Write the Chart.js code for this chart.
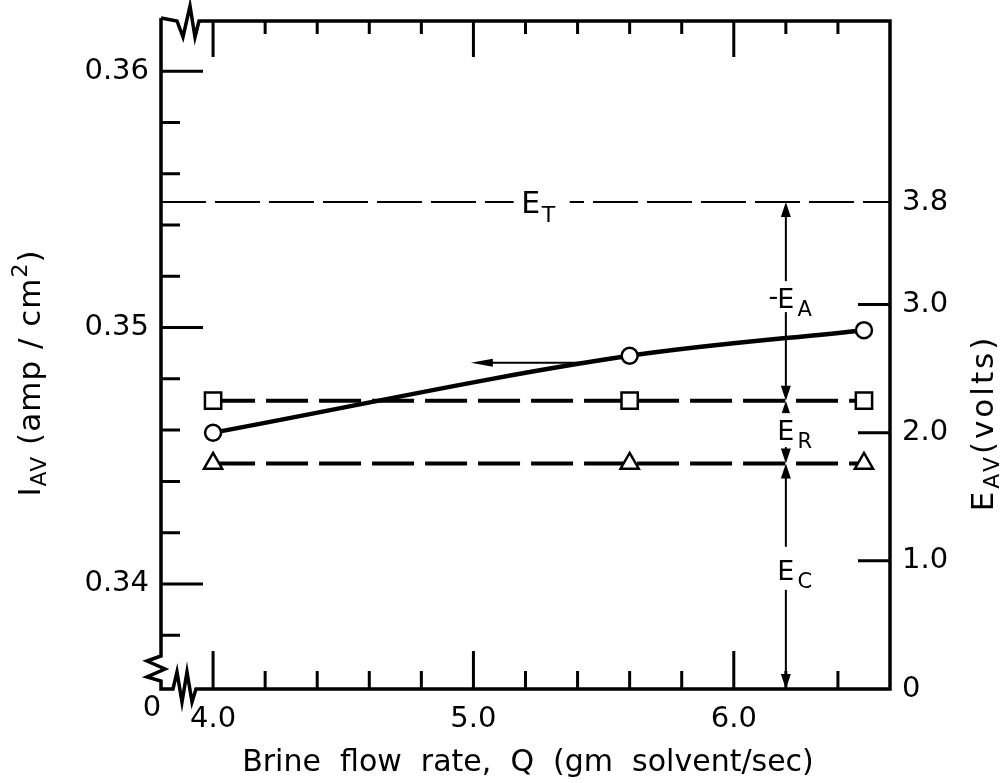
<!DOCTYPE html>
<html>
<head>
<meta charset="utf-8">
<script src="https://cdn.jsdelivr.net/npm/chart.js@4.4.1/dist/chart.umd.min.js"></script>
<style>
  html, body { margin: 0; padding: 0; background: #fff; }
  canvas { display: block; }
</style>
</head>
<body>
<canvas id="chart" width="1003" height="783"></canvas>
<script>
// data
const flowRate = [4.0, 5.6, 6.5];                 // Q, gm solvent/sec
const currentDensity = [0.3459, 0.3489, 0.3499];  // I_AV, amp/cm2 (circles, left axis)
const upperVolts = [2.25, 2.25, 2.25];            // squares, right axis
const cathodeVolts = [1.76, 1.76, 1.76];          // triangles, right axis
const totalVolts = 3.8;                           // E_T
const totalRange = [3.8, 6.6];

// axes
const xMajor = [4.0, 5.0, 6.0];
const xMinor = [4.2, 4.4, 4.6, 4.8, 5.2, 5.4, 5.6, 5.8, 6.2, 6.4];
const yMajor = [0.34, 0.35, 0.36];
const yMinor = [0.338, 0.342, 0.344, 0.346, 0.348, 0.352, 0.354, 0.356, 0.358];
const y2Labels = [0, 1.0, 2.0, 3.0, 3.8];
const y2Marks = [1.0, 2.0, 3.0];

// annotations (data units)
const splitX = 6.2;
const splitBounds = [totalVolts, upperVolts[0], cathodeVolts[0], 0];
const leftArrow = { from: 5.45, to: 4.99, y: 0.34863 };

const FONT = 'DejaVu Sans';
const INK = '#000';

function drawRich(ctx, parts, x, y, rot, spacing) {
  ctx.save();
  ctx.translate(x, y);
  ctx.rotate(rot);
  ctx.textBaseline = 'alphabetic';
  ctx.textAlign = 'left';
  ctx.letterSpacing = spacing || '0px';
  let w = 0;
  parts.forEach(p => {
    ctx.font = p.size + 'px "' + FONT + '"';
    p.w = ctx.measureText(p.t).width;
    w += p.w;
  });
  let cx = -w / 2;
  parts.forEach(p => {
    ctx.font = p.size + 'px "' + FONT + '"';
    ctx.fillText(p.t, cx, p.dy || 0);
    cx += p.w;
  });
  ctx.restore();
}

function arrowHead(ctx, x, y, dx, dy, len, half) {
  ctx.beginPath();
  ctx.moveTo(x, y);
  ctx.lineTo(x - dx * len - dy * half, y - dy * len + dx * half);
  ctx.lineTo(x - dx * len + dy * half, y - dy * len - dx * half);
  ctx.closePath();
  ctx.fill();
}

const figurePlugin = {
  id: 'figure',
  afterDatasetsDraw(chart) {
    const { ctx, chartArea: a, scales } = chart;
    const sx = scales.x, sy = scales.y, sy2 = scales.y2;
    ctx.save();
    ctx.strokeStyle = INK;
    ctx.fillStyle = INK;
    ctx.lineCap = 'butt';

    // frame with axis breaks
    ctx.lineWidth = 3.5;
    ctx.beginPath();
    ctx.moveTo(a.left, a.top - 2);
    ctx.lineTo(a.left + 16, a.top + 1);
    ctx.lineTo(a.left + 22, a.top + 17);
    ctx.lineTo(a.left + 29, a.top - 14);
    ctx.lineTo(a.left + 34, a.top + 17);
    ctx.lineTo(a.left + 38, a.top + 1);
    ctx.lineTo(a.right, a.top + 1);
    ctx.lineTo(a.right, a.bottom);
    ctx.lineTo(a.left + 35, a.bottom);
    ctx.lineTo(a.left + 31, a.bottom + 13);
    ctx.lineTo(a.left + 26, a.bottom - 17);
    ctx.lineTo(a.left + 21, a.bottom + 13);
    ctx.lineTo(a.left + 16, a.bottom - 17);
    ctx.lineTo(a.left + 12, a.bottom);
    ctx.lineTo(a.left, a.bottom);
    ctx.lineTo(a.left, a.bottom - 8);
    ctx.lineTo(a.left - 14, a.bottom - 12);
    ctx.lineTo(a.left + 4, a.bottom - 20);
    ctx.lineTo(a.left - 14, a.bottom - 28);
    ctx.lineTo(a.left, a.bottom - 33);
    ctx.lineTo(a.left, a.top - 2);
    ctx.stroke();

    // inward ticks
    ctx.lineWidth = 3;
    ctx.beginPath();
    xMajor.forEach(v => {
      const px = sx.getPixelForValue(v);
      ctx.moveTo(px, a.bottom); ctx.lineTo(px, a.bottom - 38);
      ctx.moveTo(px, a.top); ctx.lineTo(px, a.top + 37);
    });
    xMinor.forEach(v => {
      const px = sx.getPixelForValue(v);
      ctx.moveTo(px, a.bottom); ctx.lineTo(px, a.bottom - 18);
      ctx.moveTo(px, a.top); ctx.lineTo(px, a.top + 14);
    });
    yMajor.forEach(v => {
      const py = sy.getPixelForValue(v);
      ctx.moveTo(a.left, py); ctx.lineTo(a.left + 42, py);
    });
    yMinor.forEach(v => {
      const py = sy.getPixelForValue(v);
      ctx.moveTo(a.left, py); ctx.lineTo(a.left + 19, py);
    });
    y2Marks.forEach(v => {
      const py = sy2.getPixelForValue(v);
      ctx.moveTo(a.right, py); ctx.lineTo(a.right - 32, py);
    });
    ctx.stroke();

    // arrow telling which axis the curve belongs to
    const ay = sy.getPixelForValue(leftArrow.y);
    const ax0 = sx.getPixelForValue(leftArrow.from);
    const ax1 = sx.getPixelForValue(leftArrow.to);
    ctx.lineWidth = 2;
    ctx.beginPath();
    ctx.moveTo(ax0, ay); ctx.lineTo(ax1 + 10, ay);
    ctx.stroke();
    arrowHead(ctx, ax1, ay, -1, 0, 22, 4);

    // voltage split arrows
    const vx = sx.getPixelForValue(splitX);
    ctx.lineWidth = 2;
    for (let i = 0; i < splitBounds.length - 1; i++) {
      const top = sy2.getPixelForValue(splitBounds[i]);
      const bot = sy2.getPixelForValue(splitBounds[i + 1]);
      ctx.beginPath();
      ctx.moveTo(vx, top + 8); ctx.lineTo(vx, bot - 8);
      ctx.stroke();
      arrowHead(ctx, vx, top, 0, -1, 15, 5);
      arrowHead(ctx, vx, bot, 0, 1, 15, 5);
    }

    // labels on the arrows, with gaps in the lines
    function label(main, sub, px, py, gapTop, gapBot, prefix) {
      ctx.fillStyle = '#fff';
      ctx.fillRect(px - 5, py - gapTop, 10, gapTop + gapBot);
      ctx.fillStyle = INK;
      ctx.textBaseline = 'alphabetic';
      ctx.font = '27px "' + FONT + '"';
      ctx.textAlign = 'center';
      ctx.fillText(main, px, py);
      const w = ctx.measureText(main).width;
      if (prefix) {
        ctx.textAlign = 'right';
        ctx.fillText(prefix, px - w / 2 + 1, py - 3);
      }
      ctx.font = '21px "' + FONT + '"';
      ctx.textAlign = 'left';
      ctx.fillText(sub, px + w / 2 + 3, py + 8);
    }
    const vA = sy2.getPixelForValue(3.05);
    const vR = sy2.getPixelForValue(2.02);
    const vC = sy2.getPixelForValue(0.93);
    label('E', 'A', vx, vA + 10, 27, 4, '-');
    label('E', 'R', vx, vR + 10, 27, 7, null);
    label('E', 'C', vx, vC + 10, 33, 10, null);

    // E_T label on the top dashed line
    const tx = sx.getPixelForValue(5.22);
    const ty = sy2.getPixelForValue(totalVolts);
    ctx.fillStyle = '#fff';
    ctx.fillRect(tx - 17, ty - 6, 56, 12);
    ctx.fillStyle = INK;
    ctx.font = '30px "' + FONT + '"';
    ctx.textAlign = 'center';
    ctx.fillText('E', tx, ty + 11);
    ctx.font = '22px "' + FONT + '"';
    ctx.textAlign = 'left';
    ctx.fillText('T', tx + 11, ty + 20);

    // origin label of the broken x axis
    ctx.font = '29px "' + FONT + '"';
    ctx.textAlign = 'center';
    ctx.textBaseline = 'middle';
    ctx.fillText('0', a.left - 9, a.bottom + 19);

    // axis titles
    ctx.textBaseline = 'alphabetic';
    drawRich(ctx, [
      { t: 'I', size: 31 },
      { t: 'AV', size: 22, dy: 6 },
      { t: ' (amp / cm', size: 31 },
      { t: '2', size: 22, dy: -13 },
      { t: ')', size: 31 }
    ], 40, 373, -Math.PI / 2, '1px');
    drawRich(ctx, [
      { t: 'E', size: 31 },
      { t: 'AV', size: 22, dy: 6 },
      { t: '(volts)', size: 31 }
    ], 993, 423, -Math.PI / 2, '3px');
    ctx.save();
    ctx.font = '30px "' + FONT + '"';
    ctx.textAlign = 'center';
    ctx.fillText('Brine  flow  rate,  Q  (gm  solvent/sec)', 528, 771);
    ctx.restore();

    ctx.restore();
  }
};

const tickFont = { family: FONT, size: 29 };

// vertical scales: fixed width and no label overhang padding so the plot box sits where the figure has it
function fixVertical(width) {
  return s => { s.width = width; s.paddingTop = 0; s.paddingBottom = 0; };
}

new Chart(document.getElementById('chart'), {
  type: 'line',
  data: {
    datasets: [
      {
        data: flowRate.map((x, i) => ({ x: x, y: currentDensity[i] })),
        yAxisID: 'y',
        borderColor: INK,
        borderWidth: 4.5,
        cubicInterpolationMode: 'monotone',
        pointStyle: 'circle',
        pointRadius: 8,
        pointBorderWidth: 2.5,
        pointBackgroundColor: '#fff',
        pointBorderColor: INK
      },
      {
        data: flowRate.map((x, i) => ({ x: x, y: upperVolts[i] })),
        yAxisID: 'y2',
        borderColor: INK,
        borderWidth: 4,
        borderDash: [42, 11],
        pointStyle: 'rect',
        pointRadius: 11.5,
        pointBorderWidth: 2.5,
        pointBackgroundColor: '#fff',
        pointBorderColor: INK
      },
      {
        data: flowRate.map((x, i) => ({ x: x, y: cathodeVolts[i] })),
        yAxisID: 'y2',
        borderColor: INK,
        borderWidth: 4,
        borderDash: [42, 11],
        pointStyle: 'triangle',
        pointRadius: 10.5,
        pointBorderWidth: 2.5,
        pointBackgroundColor: '#fff',
        pointBorderColor: INK
      },
      {
        data: totalRange.map(x => ({ x: x, y: totalVolts })),
        yAxisID: 'y2',
        borderColor: INK,
        borderWidth: 2,
        borderDash: [45, 9],
        pointRadius: 0
      }
    ]
  },
  options: {
    responsive: false,
    animation: false,
    layout: { padding: { top: 20, left: 0, right: 0, bottom: 0 } },
    plugins: { legend: { display: false }, tooltip: { enabled: false } },
    scales: {
      x: {
        type: 'linear',
        min: 3.8,
        max: 6.6,
        grid: { display: false, drawTicks: false },
        border: { display: false },
        afterFit: s => { s.height = 94; s.paddingLeft = 0; s.paddingRight = 0; },
        afterBuildTicks: s => { s.ticks = xMajor.map(v => ({ value: v })); },
        ticks: { font: tickFont, color: INK, padding: 13, maxRotation: 0, autoSkip: false,
                 callback: v => v.toFixed(1) }
      },
      y: {
        position: 'left',
        min: 0.3359,
        max: 0.3620,
        grid: { display: false, drawTicks: false },
        border: { display: false },
        afterFit: fixVertical(161),
        afterBuildTicks: s => { s.ticks = yMajor.map(v => ({ value: v })); },
        ticks: { font: tickFont, color: INK, padding: 12, autoSkip: false,
                 callback: v => v.toFixed(2) }
      },
      y2: {
        position: 'right',
        min: 0,
        max: 5.22,
        grid: { display: false, drawTicks: false },
        border: { display: false },
        afterFit: fixVertical(113),
        afterBuildTicks: s => { s.ticks = y2Labels.map(v => ({ value: v })); },
        ticks: { font: tickFont, color: INK, padding: 12, autoSkip: false,
                 callback: v => (v === 0 ? '0' : v.toFixed(1)) }
      }
    }
  },
  plugins: [figurePlugin]
});
</script>
</body>
</html>
